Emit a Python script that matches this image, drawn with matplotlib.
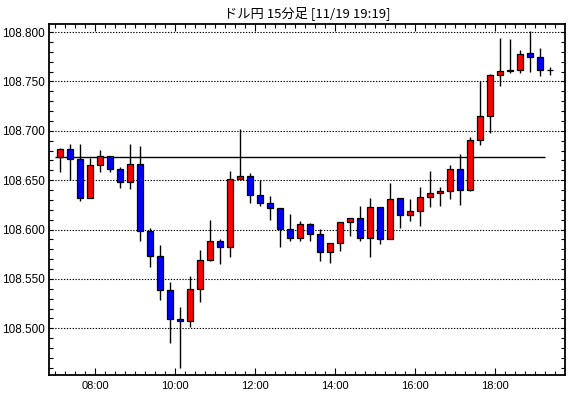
import matplotlib
matplotlib.use("Agg")
import matplotlib.pyplot as plt
import numpy as np
import pandas as pd
from matplotlib.ticker import MultipleLocator, FuncFormatter, FixedLocator

# ---- data (USD/JPY 15-minute candles, 2019-11-19) ----
start_time = "07:00"
n_bars = 50
opens = [108.673, 108.682, 108.671, 108.632, 108.665, 108.675, 108.661, 108.648, 108.666, 108.599,
         108.573, 108.539, 108.509, 108.507, 108.540, 108.569, 108.588, 108.582, 108.651, 108.654,
         108.635, 108.627, 108.622, 108.601, 108.591, 108.606, 108.596, 108.577, 108.586, 108.608,
         108.612, 108.591, 108.623, 108.590, 108.632, 108.615, 108.619, 108.633, 108.637, 108.639,
         108.661, 108.640, 108.691, 108.715, 108.757, 108.761, 108.762, 108.779, 108.775, 108.762]
highs = [108.683, 108.687, 108.687, 108.672, 108.681, 108.675, 108.663, 108.687, 108.685, 108.602,
         108.584, 108.547, 108.522, 108.553, 108.579, 108.610, 108.590, 108.659, 108.702, 108.657,
         108.650, 108.634, 108.622, 108.616, 108.609, 108.607, 108.601, 108.586, 108.608, 108.612,
         108.624, 108.632, 108.623, 108.647, 108.632, 108.631, 108.643, 108.659, 108.643, 108.665,
         108.677, 108.694, 108.750, 108.758, 108.794, 108.793, 108.782, 108.801, 108.784, 108.765]
lows = [108.658, 108.650, 108.629, 108.632, 108.658, 108.658, 108.642, 108.641, 108.588, 108.562,
        108.529, 108.485, 108.460, 108.501, 108.527, 108.568, 108.565, 108.572, 108.651, 108.627,
        108.624, 108.610, 108.582, 108.588, 108.588, 108.588, 108.568, 108.566, 108.578, 108.593,
        108.588, 108.572, 108.585, 108.590, 108.602, 108.609, 108.604, 108.623, 108.624, 108.631,
        108.625, 108.639, 108.686, 108.698, 108.745, 108.759, 108.759, 108.760, 108.756, 108.757]
closes = [108.682, 108.671, 108.632, 108.665, 108.675, 108.661, 108.648, 108.666, 108.599, 108.573,
          108.539, 108.509, 108.507, 108.540, 108.569, 108.588, 108.582, 108.651, 108.654, 108.635,
          108.627, 108.622, 108.601, 108.591, 108.606, 108.596, 108.577, 108.586, 108.608, 108.612,
          108.591, 108.623, 108.590, 108.631, 108.615, 108.619, 108.633, 108.637, 108.639, 108.661,
          108.640, 108.691, 108.715, 108.757, 108.761, 108.762, 108.778, 108.775, 108.762, 108.762]
y_ticks = [108.500, 108.550, 108.600, 108.650, 108.700, 108.750, 108.800]
x_tick_hours = [8, 10, 12, 14, 16, 18]
title = "ドル円 15分足 [11/19 19:19]"

# ---- layout ----
W, H = 570, 398
fig = plt.figure(figsize=(W / 100, H / 100), dpi=100)
fig.patch.set_facecolor("white")
ax = fig.add_axes([49 / W, 1 - 375 / H, (565 - 49) / W, (375 - 24) / H])

times = pd.date_range("2019-11-19 " + start_time, periods=n_bars, freq="15min")
t_start = np.array(times.hour + times.minute / 60.0)
slot = 0.25
x = t_start + slot / 2

o = np.array(opens); h = np.array(highs); l = np.array(lows); c = np.array(closes)
colors = np.where(c > o, "#ff0000", np.where(c < o, "#0000ff", "black"))

ax.set_xlim(6.8425, 19.7425)
ax.set_ylim(108.4527, 108.8082)

# gridlines
for yv in y_ticks:
    ax.axhline(yv, color="black", lw=0.8, ls=(0, (1.2, 1.4)), zorder=1)

# reference line at first open
ax.hlines(opens[0], t_start[0], t_start[-1], color="black", lw=1.0, zorder=1.5)

# wicks
ax.vlines(x, l, h, color="black", lw=1.0, zorder=2)
# bodies
bottoms = np.minimum(o, c)
heights = np.abs(c - o)
ax.bar(x, heights, bottom=bottoms, width=0.155, color=colors, edgecolor="black",
       linewidth=0.9, zorder=3)

# axes styling
for s in ax.spines.values():
    s.set_linewidth(1.3)
    s.set_color("black")

ax.yaxis.set_major_locator(FixedLocator(y_ticks))
ax.yaxis.set_minor_locator(MultipleLocator(0.01))
ax.yaxis.set_major_formatter(FuncFormatter(lambda v, p: f"{v:.3f}"))
ax.xaxis.set_major_locator(FixedLocator(x_tick_hours))
ax.xaxis.set_minor_locator(MultipleLocator(0.25))
ax.xaxis.set_major_formatter(FuncFormatter(lambda v, p: f"{int(round(v)):02d}:00"))

ax.tick_params(axis="both", which="both", direction="in", color="black",
               top=True, right=True, width=0.8)
ax.tick_params(axis="y", which="major", length=3, pad=3)
ax.tick_params(axis="y", which="minor", length=3)
ax.tick_params(axis="x", which="major", length=5, pad=4)
ax.tick_params(axis="x", which="minor", length=3)
for lab in ax.get_yticklabels():
    lab.set_fontfamily(["Liberation Sans", "DejaVu Sans"])
    lab.set_fontsize(8.5)
    lab.set_color("black")
for lab in ax.get_xticklabels():
    lab.set_fontfamily(["Liberation Sans", "DejaVu Sans"])
    lab.set_fontsize(8)
    lab.set_color("black")

ax.set_title(title, fontsize=9.5, family=["Noto Sans CJK JP", "DejaVu Sans"], pad=5, color="black")

fig.savefig("out.png", dpi=100, facecolor="white")
